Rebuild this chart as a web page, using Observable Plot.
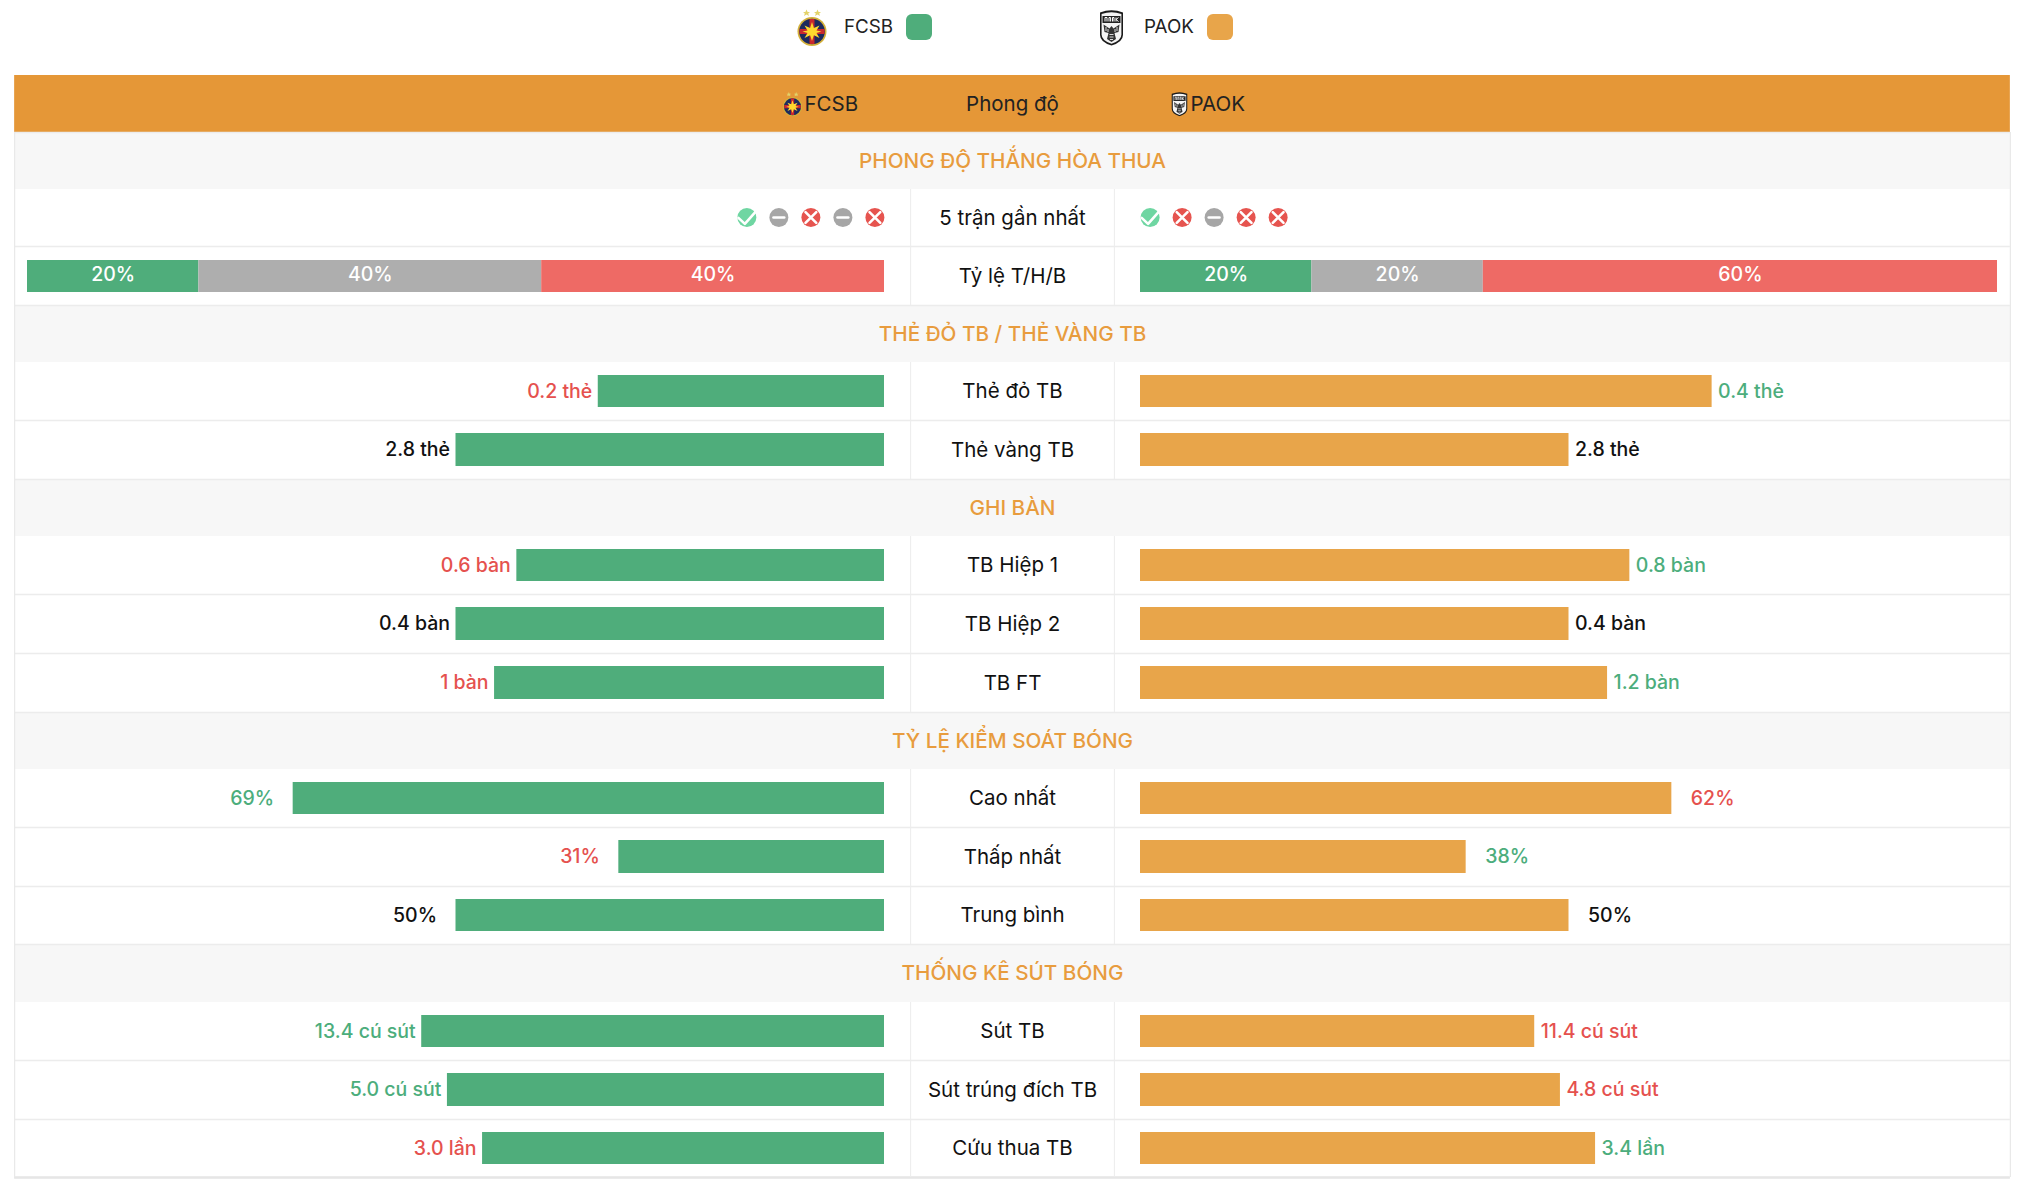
<!DOCTYPE html>
<html lang="vi">
<head>
<meta charset="utf-8">
<title>FCSB vs PAOK</title>
<script src="https://cdn.jsdelivr.net/npm/d3@7"></script>
<script src="https://cdn.jsdelivr.net/npm/@observablehq/plot@0.6"></script>
<style>
  html, body { margin: 0; padding: 0; background: #fff; overflow: hidden; }
  body { font-family: Inter, sans-serif; }
  #legend { position: relative; height: 75px; width: 2024px; font-size: 18.8px; color: #222; }
  #legend > * { position: absolute; }
  #legend .name { top: 13.5px; line-height: 25px; }
  #legend .swatch { top: 14px; width: 26px; height: 26px; border-radius: 6px; }
  svg { display: block; }
</style>
</head>
<body>
<div id="legend"></div>
<div id="chart"></div>
<script>
// ---- data ----
const teams = ["FCSB", "PAOK"];
const sections = ["PHONG ĐỘ THẮNG HÒA THUA", "THẺ ĐỎ TB / THẺ VÀNG TB", "GHI BÀN", "TỶ LỆ KIỂM SOÁT BÓNG", "THỐNG KÊ SÚT BÓNG"];
const sectionRows = [1, 4, 7, 11, 15];
const statNames = ["Thẻ đỏ TB", "Thẻ vàng TB", "TB Hiệp 1", "TB Hiệp 2", "TB FT", "Cao nhất", "Thấp nhất", "Trung bình", "Sút TB", "Sút trúng đích TB", "Cứu thua TB"];
const statRows = [5, 6, 8, 9, 10, 12, 13, 14, 16, 17, 18];
const fcsbShare = [33.4, 50, 42.9, 50, 45.5, 69, 31, 50, 54, 51, 46.9];
const paokShare = [66.7, 50, 57.1, 50, 54.5, 62, 38, 50, 46, 49, 53.1];
const fcsbLabels = ["0.2 thẻ", "2.8 thẻ", "0.6 bàn", "0.4 bàn", "1 bàn", "69%", "31%", "50%", "13.4 cú sút", "5.0 cú sút", "3.0 lần"];
const paokLabels = ["0.4 thẻ", "2.8 thẻ", "0.8 bàn", "0.4 bàn", "1.2 bàn", "62%", "38%", "50%", "11.4 cú sút", "4.8 cú sút", "3.4 lần"];
const fcsbResult = ["lose", "draw", "lose", "draw", "lose", "win", "lose", "draw", "win", "win", "lose"];
const paokResult = ["win", "draw", "win", "draw", "win", "lose", "win", "draw", "lose", "lose", "win"];
const fcsbForm = ["T", "H", "B", "H", "B"];
const paokForm = ["T", "B", "H", "B", "B"];
const fcsbRate = [20, 40, 40];
const paokRate = [20, 20, 60];
const rateOutcome = ["T", "H", "B"];

// ---- style and layout ----
const GREEN = "#4fad7b", ORANGE = "#e8a54a", HEADER = "#e59737", RED = "#e5514e", LABELGREEN = "#4cad7c";
const outcomeColor = {T: "#4fad7b", H: "#aeaeae", B: "#ee6a65"};
const iconColor = {T: "#6fd6a2", H: "#a6a6a6", B: "#e6544f"};
const labelColor = {win: LABELGREEN, lose: RED, draw: "#111"};
const rowEdges = [0, 57, 114, 171, 230, 287, 345, 404, 461, 519, 578, 637, 694, 752, 811, 869, 927, 985, 1044, 1102];
const FONT = "Inter, sans-serif";
const CENTRE = 20.5, SECTION = 20.7, LABEL = 19.5;

const crestFCSB = "data:image/svg+xml," + encodeURIComponent(`<svg xmlns='http://www.w3.org/2000/svg' viewBox='0 0 30 37'><polygon points='9.5,0.5 10.6,3 13,3 11.2,4.6 12,7 9.5,5.6 7,7 7.8,4.6 6,3 8.4,3' fill='#e3d36a'/><polygon points='20.5,0.5 21.6,3 24,3 22.2,4.6 23,7 20.5,5.6 18,7 18.8,4.6 17,3 19.4,3' fill='#e3d36a'/><circle cx='15' cy='22.5' r='14.5' fill='#d4b13a'/><circle cx='15' cy='22.5' r='12.8' fill='#1d2a5e'/><path d='M12.5 10h5v10h10v5h-10v10h-5v-10h-10v-5h10z' fill='#c8282e'/><polygon points='15,13 16.9,19 22.5,16.5 19.5,21.5 24.5,22.5 19.5,24 22.5,29 16.9,26.2 15,32 13.1,26.2 7.5,29 10.5,24 5.5,22.5 10.5,21.5 7.5,16.5 13.1,19' fill='#ffd92e'/></svg>`);
const crestPAOK = "data:image/svg+xml," + encodeURIComponent(`<svg xmlns='http://www.w3.org/2000/svg' viewBox='0 0 25 37'><path d='M1 3.5Q12.5 -1 24 3.5V26Q24 33 12.5 36.5Q1 33 1 26z' fill='#1a1a1a'/><path d='M2.6 5Q12.5 1.5 22.4 5V25.5Q22.4 31.5 12.5 34.8Q2.6 31.5 2.6 25.5z' fill='#f4f4f4'/><rect x='3.5' y='7' width='18' height='7' fill='#222'/><path d='M6 12.5V8.5H8V12.5M10 12.5V8.5H11.6V12.5M13.5 12.5V8.5H15V12.5M17 8.5V12.5M17 10.5L19.5 8.5M17 10.5L19.5 12.5' stroke='#fff' stroke-width='1' fill='none'/><path d='M12.5 17 L14.5 19.5 L20.5 15.5 L19.5 23 L15.5 24 L17 30 L12.5 33 L8 30 L9.5 24 L5.5 23 L4.5 15.5 L10.5 19.5z' fill='#333'/><path d='M7 18V22M9 20V23M18 18V22M16 20V23M10.5 25.5H14.5M10.5 28H14.5M11 30.5H14' stroke='#eee' stroke-width='.9'/></svg>`);
const crests = [crestFCSB, crestPAOK];

// ---- legend above the chart ----
const legend = d3.select("#legend");
[{crest: 0, left: 797, w: 30, text: 844, sw: 906, col: GREEN}, {crest: 1, left: 1098.5, w: 25, text: 1144, sw: 1207, col: ORANGE}].forEach(o => {
  legend.append("img").attr("src", crests[o.crest]).attr("alt", teams[o.crest])
    .style("left", o.left + "px").style("top", "8.5px").style("width", o.w + "px").style("height", "37px");
  legend.append("span").attr("class", "name").style("left", o.text + "px").text(teams[o.crest]);
  legend.append("span").attr("class", "swatch").style("left", o.sw + "px").style("background", o.col);
});

// ---- derived tables ----
const stats = statNames.map((name, i) => ({
  name, row: statRows[i], left: fcsbShare[i], right: paokShare[i],
  leftLabel: fcsbLabels[i], rightLabel: paokLabels[i],
  leftColor: labelColor[fcsbResult[i]], rightColor: labelColor[paokResult[i]],
  pct: fcsbLabels[i].endsWith("%")
}));
const dataRows = [2, 3, ...statRows];
const allRows = d3.range(rowEdges.length - 1);
const segs = (vals, sign) => {
  const ends = Array.from(d3.cumsum(vals));
  return vals.map((v, i) => ({
    v, outcome: rateOutcome[i],
    a: sign < 0 ? -100 + (ends[i] - v) : 1 + (ends[i] - v),
    b: sign < 0 ? -100 + ends[i] : 1 + ends[i]
  }));
};
const rateSegs = [...segs(fcsbRate, -1), ...segs(paokRate, 1)];
const STEP = 3.735, OFF = 1.12;
const leftIcons = fcsbForm.map((o, i) => ({o, x: -OFF - (fcsbForm.length - 1 - i) * STEP}));
const rightIcons = paokForm.map((o, i) => ({o, x: 1 + OFF + i * STEP}));
const icons = [...leftIcons, ...rightIcons];

const check = {draw(c, s) { const r = Math.sqrt(s); c.moveTo(-r * .5, r * .02); c.lineTo(-r * .12, r * .38); c.lineTo(r * .54, -r * .36); }};
const minus = {draw(c, s) { const r = Math.sqrt(s); c.moveTo(-r * .32, 0); c.lineTo(r * .32, 0); }};
const cross = {draw(c, s) { const r = Math.sqrt(s) * .32; c.moveTo(-r, -r); c.lineTo(r, r); c.moveTo(-r, r); c.lineTo(r, -r); }};
const glyph = {T: check, H: minus, B: cross};

const TL = -101.5, TR = 102.5, C1 = 0.102, C2 = 0.898;
const centreSpans = [[2, 4], [5, 7], [8, 11], [12, 15], [16, 19]];
const textBase = {lineAnchor: "middle"};
const labelBase = {...textBase, fontSize: LABEL, fontWeight: 500};

const chart = Plot.plot({
  width: 2024, height: 1119,
  margin: 0,
  style: {fontFamily: FONT, background: "transparent"},
  x: {type: "linear", axis: null, domain: [-100, 0, 1, 101], range: [27, 884, 1140, 1997]},
  y: {type: "linear", axis: null, domain: allRows.concat(allRows.length), range: rowEdges},
  marks: [
    // header band
    Plot.rect([0], {x1: TL, x2: TR, y1: 0, y2: 1, fill: HEADER}),
    // section bands
    Plot.rect(sectionRows, {x1: TL, x2: TR, y1: d => d, y2: d => d + 1, fill: "#f7f7f7"}),
    // horizontal separators and table frame
    Plot.ruleY(dataRows, {y: d => d + 1, x1: TL, x2: TR, stroke: "#ececec", strokeWidth: 1.3}),
    Plot.ruleY([1], {x1: TL, x2: TR, stroke: "#ececec", strokeWidth: 1.3}),
    Plot.ruleY([allRows.length], {x1: TL, x2: TR, stroke: "#e6e6e6", strokeWidth: 2.5}),
    Plot.ruleX([TL, TR], {y1: 1, y2: allRows.length, stroke: "#e8e8e8", strokeWidth: 1.2}),
    ...centreSpans.map(([a, b]) => Plot.ruleX([C1, C2], {y1: a, y2: b, stroke: "#ececec", strokeWidth: 1})),
    // header text and crests
    Plot.text(["Phong độ"], {...textBase, x: 0.5, y: 0.5, text: d => d, fontSize: CENTRE, fill: "#222"}),
    Plot.text([teams[0]], {...textBase, x: 0.5, y: 0.5, dx: -208, text: d => d, textAnchor: "start", fontSize: CENTRE, fill: "#222"}),
    Plot.text([teams[1]], {...textBase, x: 0.5, y: 0.5, dx: 178, text: d => d, textAnchor: "start", fontSize: CENTRE, fill: "#222"}),
    Plot.image([crests[0]], {x: 0.5, y: 0.5, dx: -220, src: d => d, width: 20, height: 25}),
    Plot.image([crests[1]], {x: 0.5, y: 0.5, dx: 167, src: d => d, width: 17, height: 25}),
    // section titles
    Plot.text(sections, {...textBase, x: 0.5, y: (d, i) => sectionRows[i] + 0.5, text: d => d, fill: "#e89c3e", fontSize: SECTION, fontWeight: 500}),
    // centre labels
    Plot.text(["5 trận gần nhất", "Tỷ lệ T/H/B"], {...textBase, x: 0.5, y: (d, i) => 2.5 + i, text: d => d, fill: "#111", fontSize: CENTRE}),
    Plot.text(stats, {...textBase, x: 0.5, y: d => d.row + 0.5, text: "name", fill: "#111", fontSize: CENTRE}),
    // form icons
    Plot.dot(icons, {x: "x", y: 2.5, dy: -0.5, r: 9.5, fill: d => iconColor[d.o]}),
    ...["T", "H", "B"].map(o => Plot.dot(icons.filter(d => d.o === o), {x: "x", y: 2.5, dy: -0.5, r: 9.5, symbol: glyph[o], stroke: "white", strokeWidth: 2.6, fill: "none", strokeLinecap: "round", strokeLinejoin: "round"})),
    // T/H/B rate bars
    Plot.rect(rateSegs, {x1: "a", x2: "b", y1: 3, y2: 4, insetTop: 14, insetBottom: 13, fill: d => outcomeColor[d.outcome]}),
    Plot.text(rateSegs, {...labelBase, x: d => (d.a + d.b) / 2, y: 3.5, dy: -1.5, text: d => d.v + "%", fill: "white"}),
    // stat bars
    Plot.rect(stats, {x1: d => -d.left, x2: 0, y1: "row", y2: d => d.row + 1, insetTop: 13, insetBottom: 13, fill: GREEN}),
    Plot.rect(stats, {x1: 1, x2: d => 1 + d.right, y1: "row", y2: d => d.row + 1, insetTop: 13, insetBottom: 13, fill: ORANGE}),
    Plot.text(stats.filter(d => !d.pct), {...labelBase, x: d => -d.left, y: d => d.row + 0.5, dx: -6, text: "leftLabel", fill: "leftColor", textAnchor: "end"}),
    Plot.text(stats.filter(d => !d.pct), {...labelBase, x: d => 1 + d.right, y: d => d.row + 0.5, dx: 6, text: "rightLabel", fill: "rightColor", textAnchor: "start"}),
    Plot.text(stats.filter(d => d.pct), {...labelBase, x: d => -d.left, y: d => d.row + 0.5, dx: -19, text: "leftLabel", fill: "leftColor", textAnchor: "end"}),
    Plot.text(stats.filter(d => d.pct), {...labelBase, x: d => 1 + d.right, y: d => d.row + 0.5, dx: 19, text: "rightLabel", fill: "rightColor", textAnchor: "start"})
  ]
});
document.getElementById("chart").appendChild(chart);
</script>
</body>
</html>
